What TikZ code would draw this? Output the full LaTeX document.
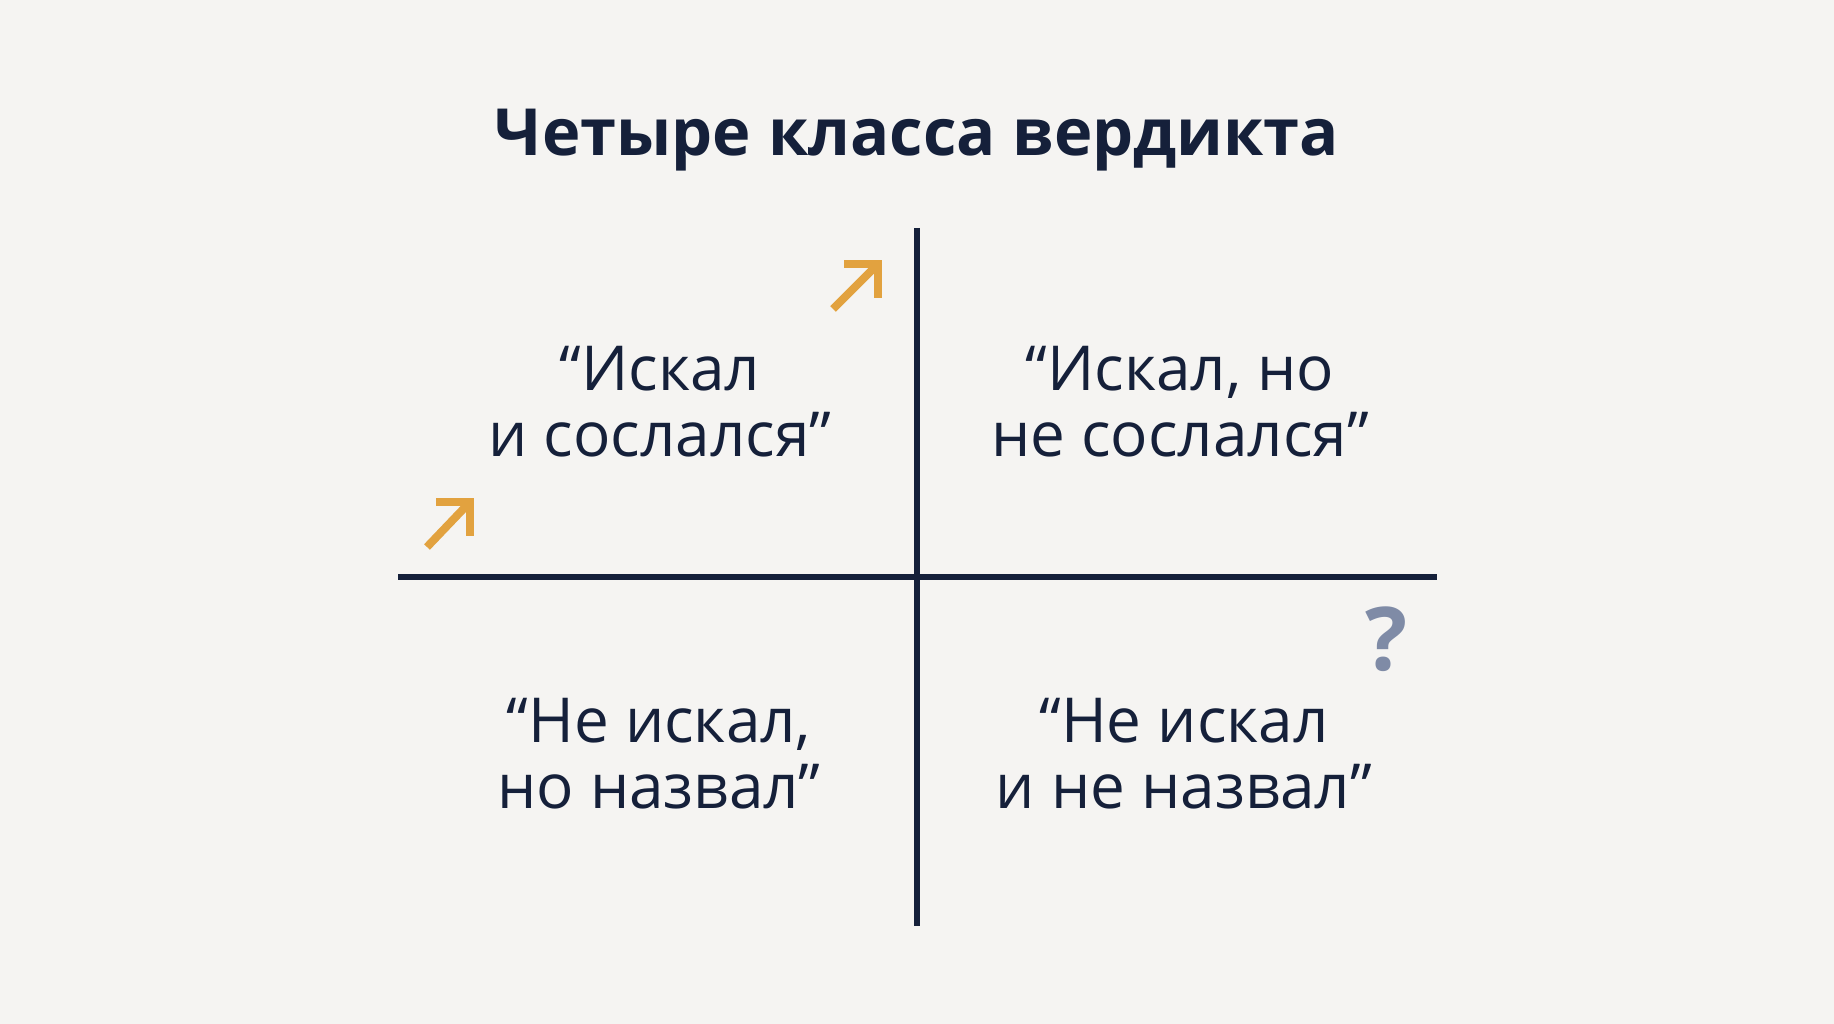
\documentclass[tikz,border=0pt]{standalone}
\usepackage{fontspec}
\setmainfont{Open Sans}
\usetikzlibrary{positioning}
\definecolor{navy}{HTML}{15203A}
\definecolor{amber}{HTML}{E2A23F}
\definecolor{slate}{HTML}{7F8BA6}
\definecolor{paper}{HTML}{F5F4F2}
\tikzstyle{axis}=[draw=navy,line width=5.5pt]
\tikzstyle{verdict}=[align=center,text=navy,inner sep=0pt,
  font=\fontsize{62}{66}\selectfont]
\tikzstyle{hint}=[draw=amber,line width=8pt,miter limit=4]

\begin{document}
\begin{tikzpicture}[x=1pt,y=-1pt]
  \fill[paper] (0,0) rectangle (1834,1024);
  \useasboundingbox (0,0) rectangle (1834,1024);
  \node[text=navy,font=\fontsize{65}{70}\selectfont\bfseries,anchor=base]
    (title) at (917,156) {Четыре класса вердикта};
  \coordinate (top) at (917,228);
  \coordinate (bottom) at (917,926);
  \coordinate (left) at (398,577);
  \coordinate (right) at (1437,577);
  \draw[axis] (top) -- (bottom);
  \draw[axis] (left) -- (right);
  \node[verdict] (found) at (660,402) {“Искал\\и сослался”};
  \node[verdict] (foundnot) at (1180,402) {“Искал, но\\не сослался”};
  \node[verdict] (named) at (659,754) {“Не искал,\\но назвал”};
  \node[verdict] (notnamed) at (1184,754) {“Не искал\\и не назвал”};
  \node[text=slate,font=\fontsize{88}{90}\selectfont\bfseries,inner sep=0pt]
    (unsure) at (1386,639) {?};
  \coordinate (hintA tail) at (833,309);
  \coordinate (hintA tip) at (878,264);
  \coordinate (hintB tail) at (427,547);
  \coordinate (hintB tip) at (470,502);
  \draw[hint] (hintA tail) -- (hintA tip);
  \draw[hint] (hintA tip) ++(-34,0) -- (hintA tip) -- ++(0,34);
  \draw[hint] (hintB tail) -- (hintB tip);
  \draw[hint] (hintB tip) ++(-34,0) -- (hintB tip) -- ++(0,34);
\end{tikzpicture}
\end{document}
